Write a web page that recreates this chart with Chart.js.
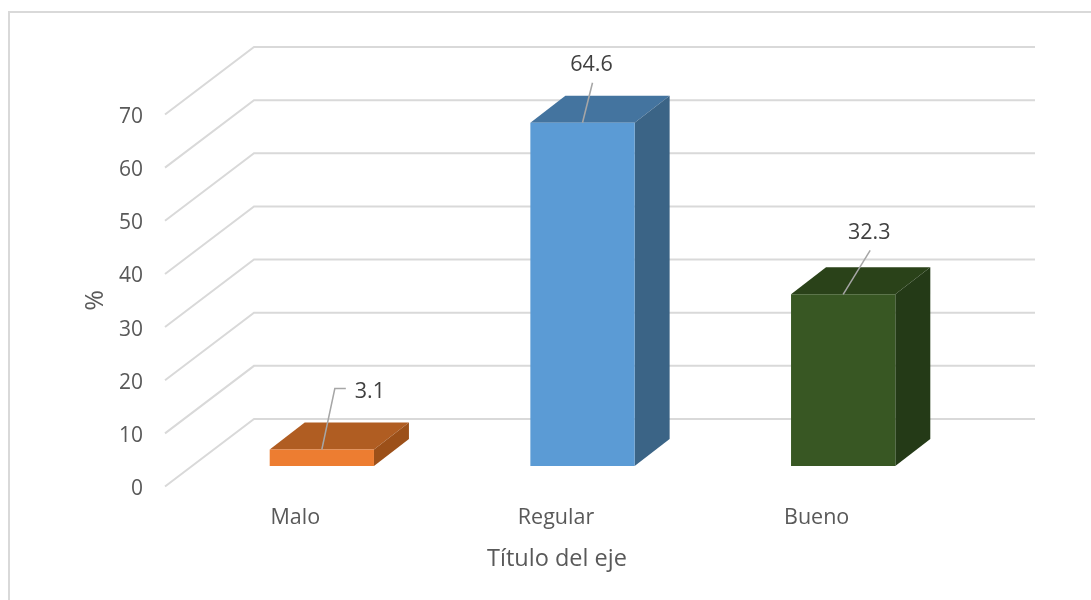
<!DOCTYPE html>
<html>
<head>
<meta charset="utf-8">
<style>
  html, body { margin: 0; padding: 0; background: #fff; overflow: hidden; }
  #marco { position: absolute; left: 8px; top: 11px; width: 1200px; height: 700px; border-top: 2px solid #d9d9d9; border-left: 2px solid #d9d9d9; }
  #myChart { position: absolute; left: 0; top: 0; }
</style>
</head>
<body>
<div id="marco"></div>
<canvas id="myChart" width="1091" height="600"></canvas>
<script src="https://cdn.jsdelivr.net/npm/chart.js@4"></script>
<script>
let categorias = ['Malo', 'Regular', 'Bueno'];
let porcentaje = [3.1, 64.6, 32.3];
let ticksY = [0, 10, 20, 30, 40, 50, 60, 70];

let colorFrente = ['#ED7D31', '#5B9BD5', '#385723'];
let colorArriba = ['#B05D22', '#44749F', '#2A4219'];
let colorLado = ['#9C5019', '#3B6486', '#243A17'];

// profundidad del "3D": pared del fondo y plano donde van las barras
const fondo = { x: 89, y: -67.5, fin: 1035 };
const plano = { x: 25.5, y: -20.5 };
const caja = { x: 35, y: -27 };

// lineas guia de cada etiqueta, relativas a la parte alta de la barra
const guias = [
    { pts: [[0, 0], [13, -61], [24, -61]], texto: [48, -58] },
    { pts: [[0, 0], [10, -40]], texto: [9, -58] },
    { pts: [[0, 0], [27, -44]], texto: [26, -61] }
];

const tresD = {
    id: 'tresD',
    // rejilla en L: del eje hacia la pared del fondo
    beforeDatasetsDraw(chart) {
        const ctx = chart.ctx;
        const y = chart.scales.y;
        const x0 = chart.chartArea.left - 1;
        ctx.save();
        ctx.strokeStyle = '#d9d9d9';
        ctx.lineWidth = 2;
        ticksY.forEach(t => {
            const py = y.getPixelForValue(t);
            ctx.beginPath();
            ctx.moveTo(x0, py);
            ctx.lineTo(x0 + fondo.x, py + fondo.y);
            ctx.lineTo(fondo.fin, py + fondo.y);
            ctx.stroke();
        });
        ctx.restore();
        // las barras se dibujan en el plano intermedio
        ctx.save();
        ctx.translate(plano.x, plano.y);
        chart.getDatasetMeta(0).data.forEach((bar, i) => {
            const iz = bar.x - bar.width / 2;
            const de = bar.x + bar.width / 2;
            ctx.fillStyle = colorArriba[i];
            ctx.beginPath();
            ctx.moveTo(iz, bar.y);
            ctx.lineTo(iz + caja.x, bar.y + caja.y);
            ctx.lineTo(de + caja.x, bar.y + caja.y);
            ctx.lineTo(de, bar.y);
            ctx.closePath();
            ctx.fill();
            ctx.fillStyle = colorLado[i];
            ctx.beginPath();
            ctx.moveTo(de, bar.y);
            ctx.lineTo(de + caja.x, bar.y + caja.y);
            ctx.lineTo(de + caja.x, bar.base + caja.y);
            ctx.lineTo(de, bar.base);
            ctx.closePath();
            ctx.fill();
        });
    },
    afterDatasetsDraw(chart) {
        const ctx = chart.ctx;
        chart.getDatasetMeta(0).data.forEach((bar, i) => {
            const g = guias[i];
            ctx.strokeStyle = '#a6a6a6';
            ctx.lineWidth = 1.5;
            ctx.beginPath();
            g.pts.forEach((p, k) => {
                if (k == 0) ctx.moveTo(bar.x + p[0], bar.y + p[1]);
                else ctx.lineTo(bar.x + p[0], bar.y + p[1]);
            });
            ctx.stroke();
            ctx.fillStyle = '#404040';
            ctx.font = '21.5px "Open Sans"';
            ctx.textAlign = 'center';
            ctx.textBaseline = 'middle';
            ctx.fillText(porcentaje[i].toFixed(1), bar.x + g.texto[0], bar.y + g.texto[1]);
        });
        ctx.restore();
    }
};

let context = document.getElementById('myChart').getContext('2d');
let chart = new Chart(context, {
    type: 'bar',
    data: {
        labels: categorias,
        datasets: [
            {
                label: '%',
                data: porcentaje,
                backgroundColor: colorFrente,
                categoryPercentage: 1,
                barPercentage: 0.4
            }
        ]
    },
    plugins: [tresD],
    options: {
        responsive: false,
        animation: false,
        layout: { padding: { left: 0, right: 143, top: 114.5, bottom: 0 } },
        plugins: { legend: { display: false }, tooltip: { enabled: false } },
        scales: {
            x: {
                grid: { display: false, drawTicks: false },
                border: { display: false },
                ticks: { color: '#595959', font: { family: 'Open Sans', size: 21.5 }, padding: 18.5, maxRotation: 0, labelOffset: -1 },
                title: {
                    display: true,
                    text: 'Título del eje',
                    color: '#595959',
                    font: { family: 'Open Sans', size: 23.5 },
                    padding: { top: 0, bottom: 27 }
                },
                afterFit(scale) { scale.height = 113.5; }
            },
            y: {
                min: 0,
                max: 70,
                grid: { display: false, drawTicks: false },
                border: { display: false },
                afterBuildTicks(scale) { scale.ticks = ticksY.map(v => ({ value: v })); },
                ticks: { color: '#595959', font: { family: 'Open Sans', size: 21 }, padding: 23, labelOffset: 2.5 },
                title: {
                    display: true,
                    text: '%',
                    color: '#595959',
                    font: { family: 'Open Sans', size: 25 },
                    padding: { top: 81, bottom: 0 }
                },
                afterFit(scale) { scale.width = 166; }
            }
        }
    }
});
</script>
</body>
</html>
